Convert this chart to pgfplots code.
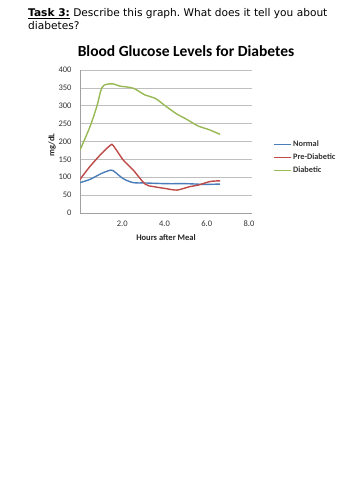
\documentclass[border=0pt]{standalone}
\usepackage{fontspec}
\setmainfont{DejaVu Sans}
\newfontfamily\carl{Carlito}
\usepackage{pgfplots}
\pgfplotsset{compat=1.18}
\definecolor{exblue}{HTML}{4A7EBB}
\definecolor{exred}{HTML}{BE4B48}
\definecolor{exgreen}{HTML}{98B954}
\definecolor{gridc}{HTML}{BFBFBF}
\definecolor{axisc}{HTML}{A0A0A0}
\frenchspacing
\begin{document}
\begin{tikzpicture}[x=1pt,y=1pt]
\useasboundingbox[fill=white] (0,0) rectangle (353,-500);
\node[anchor=base west,inner sep=0pt,font=\fontsize{10.6}{12}\selectfont] at (28,-17)
  {\underline{\textbf{Task 3:}} Describe this graph. What does it tell you about};
\node[anchor=base west,inner sep=0pt,font=\fontsize{10.6}{12}\selectfont] at (28,-30) {diabetes?};
\begin{axis}[
  at={(80pt,-213pt)}, anchor=south west,
  scale only axis, width=172pt, height=143pt,
  xmin=0, xmax=8.14, ymin=0, ymax=400,
  axis x line=bottom, axis y line=left,
  axis line style={axisc,-},
  xtick={2,4,6,8}, ytick={0,50,...,400},
  major tick length=0pt,
  ymajorgrids, grid style={gridc,line width=0.6pt},
  xticklabel style={font=\carl\fontsize{8.5}{9}\selectfont, yshift=-4pt, text=black!80},
  yticklabel style={font=\carl\fontsize{8.5}{9}\selectfont, xshift=-5pt, text=black!80},
  /pgf/number format/assume math mode=true,
  xticklabel={\pgfmathprintnumber[fixed,fixed zerofill,precision=1]{\tick}},
  yticklabel={\pgfmathprintnumber[fixed,precision=0]{\tick}},
  legend style={at={(1.122,0.39)}, anchor=west, draw=none, fill=none,
    font=\carl\bfseries\fontsize{8.3}{9}\selectfont, row sep=1.5pt, inner sep=0pt,
    text=black!80},
  legend cell align=left,
  legend image code/.code={\draw[#1,line width=0.9pt] (0pt,0pt) -- (17pt,0pt);},
]
\addplot[exblue, line width=1.4pt, smooth, tension=0.5] coordinates {
(0,85) (0.47,94) (1.03,111) (1.45,120) (1.58,118) (2.05,96) (2.52,85) (3.08,84)
(4.10,82) (5.05,82) (5.90,80) (6.63,81)};
\addlegendentry{Normal}
\addplot[exred, line width=1.4pt, smooth, tension=0.5] coordinates {
(0,94) (0.47,130) (1.03,167) (1.45,190) (1.58,188) (2.05,148) (2.52,120) (3.08,81)
(3.47,74) (4.10,68) (4.58,64) (5.21,74) (5.60,78) (6.15,88) (6.63,90)};
\addlegendentry{Pre-Diabetic}
\addplot[exgreen, line width=1.4pt, smooth, tension=0.5] coordinates {
(0,176) (0.47,241) (0.79,297) (1.03,350) (1.26,360) (1.58,361) (1.89,355)
(2.52,349) (3.08,330) (3.55,321) (4.10,297) (4.58,277) (5.05,262) (5.60,243)
(6.07,234) (6.63,220)};
\addlegendentry{Diabetic}
\end{axis}
\node[font=\carl\bfseries\fontsize{15.5}{17}\selectfont, anchor=base] at (186,-57) {Blood Glucose Levels for Diabetes};
\node[font=\carl\bfseries\fontsize{8.5}{9}\selectfont, anchor=center, text=black!85] at (166,-238) {Hours after Meal};
\node[font=\carl\bfseries\fontsize{8.5}{9}\selectfont, anchor=center, rotate=90, text=black!85] at (52,-145) {mg/dL};
\end{tikzpicture}
\end{document}
